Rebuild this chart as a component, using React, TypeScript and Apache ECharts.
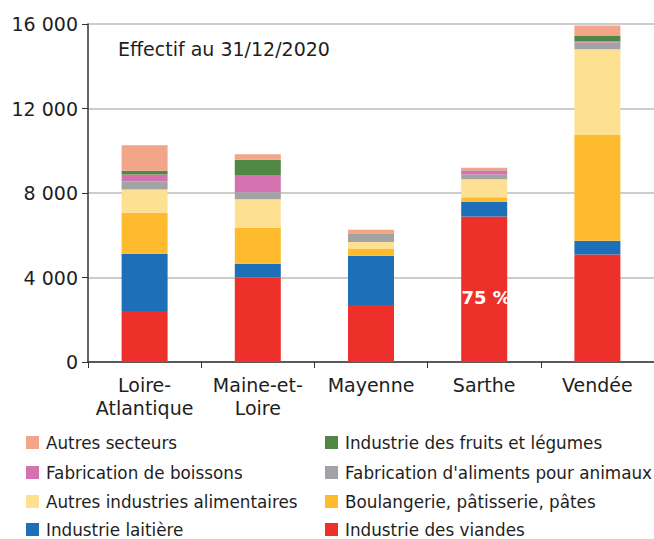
import React, { useEffect, useRef } from "react";
import * as echarts from "echarts";

const categories = ["Loire-\nAtlantique", "Maine-et-\nLoire", "Mayenne", "Sarthe", "Vendée"];

const viandes = [2420, 4000, 2700, 6890, 5090];
const laitiere = [2700, 650, 2330, 690, 650];
const boulangerie = [1940, 1700, 320, 220, 5010];
const autresIndustries = [1110, 1360, 330, 850, 4050];
const alimentsAnimaux = [380, 320, 330, 220, 320];
const boissons = [330, 820, 20, 190, 60];
const fruitsLegumes = [170, 720, 40, 20, 280];
const autresSecteurs = [1215, 270, 190, 110, 470];

const yTicks = [0, 4000, 8000, 12000, 16000];

const FONT = "DejaVu Sans";

export default function App() {
  const ref = useRef<HTMLDivElement>(null);
  useEffect(() => {
    if (!ref.current) return;
    const chart = echarts.init(ref.current, undefined, { renderer: "svg" });
    const mk = (name: string, data: any[], color: string) => ({
      name,
      type: "bar",
      stack: "total",
      barWidth: 46,
      data,
      itemStyle: { color },
      emphasis: { disabled: true },
    });
    const viandesData: any[] = viandes.map((v, i) =>
      i === 3
        ? {
            value: v,
            label: {
              show: true,
              position: "inside",
              formatter: "75 %",
              color: "#ffffff",
              fontWeight: "bold",
              fontSize: 18,
              fontFamily: FONT,
              offset: [2, 8],
            },
          }
        : v
    );
    const legendItems = [
      { name: "Autres secteurs", left: 26, top: 434 },
      { name: "Fabrication de boissons", left: 26, top: 464 },
      { name: "Autres industries alimentaires", left: 26, top: 493 },
      { name: "Industrie laitière", left: 26, top: 521 },
      { name: "Industrie des fruits et légumes", left: 325, top: 434 },
      { name: "Fabrication d'aliments pour animaux", left: 325, top: 464 },
      { name: "Boulangerie, pâtisserie, pâtes", left: 325, top: 493 },
      { name: "Industrie des viandes", left: 325, top: 521 },
    ];
    chart.setOption({
      animation: false,
      textStyle: { fontFamily: FONT },
      title: {
        text: "Effectif au 31/12/2020",
        left: 118,
        top: 39,
        padding: 0,
        textStyle: { fontSize: 19, fontWeight: "normal", color: "#1e1e1e", fontFamily: FONT },
      },
      legend: legendItems.map((l) => ({
        data: [l.name],
        left: l.left,
        top: l.top,
        itemWidth: 13,
        itemHeight: 13,
        icon: "rect",
        padding: 0,
        itemGap: 0,
        selectedMode: false,
        textStyle: { fontSize: 16.8, color: "#1e1e1e", fontFamily: FONT, padding: [0, 0, 0, 2] },
      })),
      grid: { left: 88, right: 0, top: 24, bottom: 177, containLabel: false },
      xAxis: {
        type: "category",
        data: categories,
        axisLine: { lineStyle: { color: "#333333", width: 1.5 } },
        axisTick: { show: true, length: 6, lineStyle: { color: "#333333" } },
        axisLabel: {
          fontSize: 19,
          color: "#1e1e1e",
          lineHeight: 23,
          margin: 11,
          fontFamily: FONT,
          interval: 0,
        },
      },
      yAxis: {
        type: "value",
        min: yTicks[0],
        max: yTicks[yTicks.length - 1],
        interval: 4000,
        axisLine: { show: true, lineStyle: { color: "#333333", width: 1.5 } },
        axisTick: { show: true, length: 6, lineStyle: { color: "#333333" } },
        splitLine: { lineStyle: { color: "#bdbdbd", width: 1.5 } },
        axisLabel: {
          fontSize: 19,
          color: "#1e1e1e",
          margin: 10,
          fontFamily: FONT,
          formatter: (v: number) => String(v).replace(/\B(?=(\d{3})+(?!\d))/g, " "),
        },
      },
      series: [
        mk("Industrie des viandes", viandesData, "#ee302a"),
        mk("Industrie laitière", laitiere, "#1d70b8"),
        mk("Boulangerie, pâtisserie, pâtes", boulangerie, "#fdbb2d"),
        mk("Autres industries alimentaires", autresIndustries, "#fee093"),
        mk("Fabrication d'aliments pour animaux", alimentsAnimaux, "#a1a3a6"),
        mk("Fabrication de boissons", boissons, "#d472b0"),
        mk("Industrie des fruits et légumes", fruitsLegumes, "#508745"),
        mk("Autres secteurs", autresSecteurs, "#f3a58a"),
      ],
    });
    return () => chart.dispose();
  }, []);
  return (
    <div
      ref={ref}
      style={{ position: "absolute", left: 0, top: 0, width: 654, height: 539 }}
    />
  );
}
